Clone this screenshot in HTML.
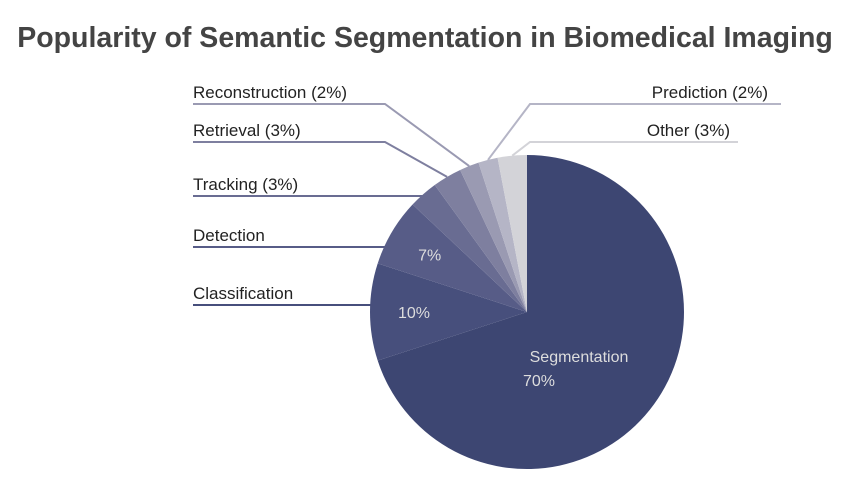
<!DOCTYPE html>
<html><head><meta charset="utf-8"><style>
body{margin:0;background:#fff;width:854px;height:486px;overflow:hidden;font-family:"Liberation Sans",sans-serif}
</style></head><body>
<svg width="854" height="486">
<text x="425" y="47" text-anchor="middle" font-size="28.5" font-weight="bold" fill="#444">Popularity of Semantic Segmentation in Biomedical Imaging</text>
<g id="slices"></g><g id="labels"></g>
</svg>
<script>
const categories=["Segmentation","Classification","Detection","Tracking","Retrieval","Reconstruction","Prediction","Other"];
const values=[70,10,7,3,3,2,2,3];
const colors=["#3d4672","#474f7c","#575c87","#696c92","#7e7f9f","#9a9ab2","#b5b5c6","#d3d3d8"];
// label layout: [textX, lineY, lineOuterX, elbowX (null = straight to edge), side]
const layout=[null,[193,305,193,null,"l"],[193,247,193,null,"l"],[193,196,193,null,"l"],[193,142,193,385,"l"],[193,104,193,385,"l"],[768,104,781,530,"r"],[730,142,738,530,"r"]];
const cx=527,cy=312,R=157,NS="http://www.w3.org/2000/svg";
const total=values.reduce((a,b)=>a+b,0);
const sg=document.getElementById('slices'),lg=document.getElementById('labels');
function pt(a,r){return [cx+r*Math.sin(a),cy-r*Math.cos(a)];}
let acc=0;
values.forEach((v,i)=>{
 const a0=acc/total*2*Math.PI;acc+=v;const a1=acc/total*2*Math.PI;
 const p0=pt(a0,R),p1=pt(a1,R);
 const p=document.createElementNS(NS,'path');
 p.setAttribute('d',`M${cx},${cy}L${p0[0]},${p0[1]}A${R},${R} 0 ${a1-a0>Math.PI?1:0} 1 ${p1[0]},${p1[1]}Z`);
 p.setAttribute('fill',colors[i]);
 
 
 sg.appendChild(p);
 const am=(a0+a1)/2;
 if(i===0){
  [[categories[i],cx+52,362],[v+'%',cx+12,386]].forEach(([t,x,y],k)=>{
   const tx=document.createElementNS(NS,'text');tx.setAttribute('x',x);tx.setAttribute('y',y);
   tx.setAttribute('text-anchor','middle');tx.setAttribute('font-size','16');tx.setAttribute('fill','#ddd');
   tx.textContent=t;
   
   
   sg.appendChild(tx);});
  return;
 }
 if(v>=7){const c=pt(am,R*0.72);
  const tx=document.createElementNS(NS,'text');tx.setAttribute('x',c[0]);tx.setAttribute('y',c[1]+6);
  tx.setAttribute('text-anchor','middle');tx.setAttribute('font-size','16');tx.setAttribute('fill','#ddd');
  tx.textContent=v+'%';
  
  
  sg.appendChild(tx);}
 const L=layout[i];
 let pts;
 if(L[3]===null){
  const dx=Math.sqrt(Math.max(0,R*R-(L[1]-cy)*(L[1]-cy)));
  pts=`${L[2]},${L[1]} ${cx-dx+2},${L[1]}`;
 } else {
  const e=pt(am,R);
  pts=`${L[2]},${L[1]} ${L[3]},${L[1]} ${e[0]},${e[1]}`;
 }
 const ln=document.createElementNS(NS,'polyline');
 ln.setAttribute('points',pts);
 ln.setAttribute('fill','none');ln.setAttribute('stroke',colors[i]);ln.setAttribute('stroke-width','2');
 
 
 lg.appendChild(ln);
 const tx=document.createElementNS(NS,'text');
 tx.setAttribute('x',L[0]);tx.setAttribute('y',L[1]-6);
 tx.setAttribute('text-anchor',L[4]==="l"?'start':'end');tx.setAttribute('font-size','17');tx.setAttribute('fill','#222');
 tx.textContent=categories[i]+(v<=3?` (${v}%)`:'');
 
 
 lg.appendChild(tx);
});
</script>
</body></html>
